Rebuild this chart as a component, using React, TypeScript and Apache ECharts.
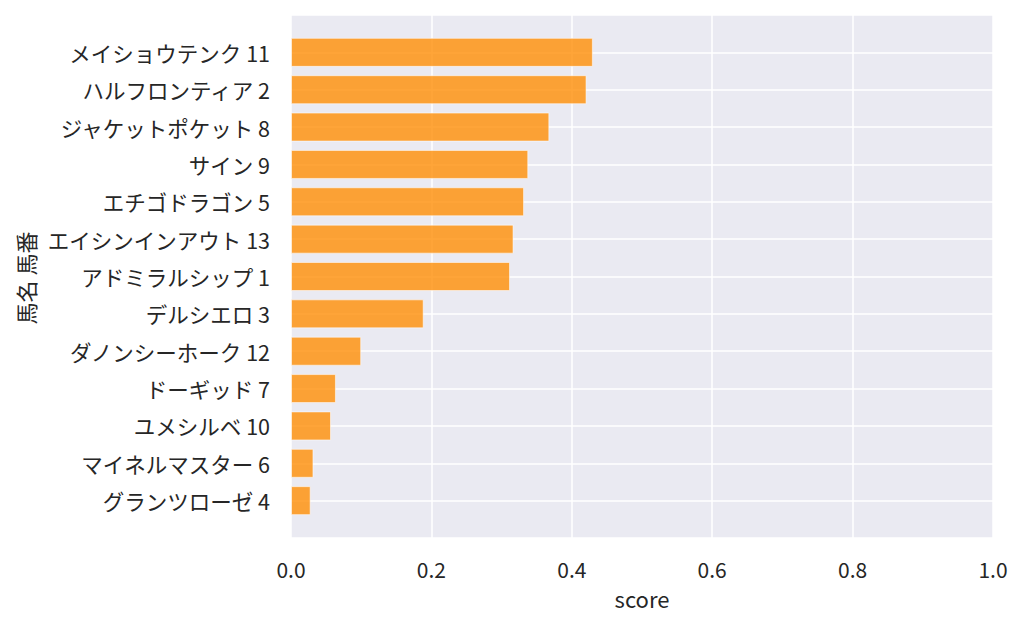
import React, { useEffect, useRef } from "react";
import * as echarts from "echarts";

const horses = [
  "メイショウテンク 11",
  "ハルフロンティア 2",
  "ジャケットポケット 8",
  "サイン 9",
  "エチゴドラゴン 5",
  "エイシンインアウト 13",
  "アドミラルシップ 1",
  "デルシエロ 3",
  "ダノンシーホーク 12",
  "ドーギッド 7",
  "ユメシルベ 10",
  "マイネルマスター 6",
  "グランツローゼ 4",
];
const scores = [0.430, 0.421, 0.368, 0.338, 0.332, 0.317, 0.312, 0.189, 0.100, 0.064, 0.057, 0.032, 0.028];
const xTicks = [0, 0.2, 0.4, 0.6, 0.8, 1.0];
const xName = "score";
const yName = "馬名 馬番";

const FONT = "'Noto Sans CJK JP', 'Noto Sans', sans-serif";
const TEXT = "#262626";
const FS = 21;

export default function App() {
  const ref = useRef<HTMLDivElement>(null);
  useEffect(() => {
    if (!ref.current) return;
    const chart = echarts.init(ref.current, undefined, { renderer: "svg" });
    const cats = ["", ...horses, ""];
    const vals: any[] = ["-", ...scores, "-"];
    chart.setOption({
      animation: false,
      textStyle: { fontFamily: FONT },
      grid: {
        left: 291,
        right: 31,
        top: 15,
        bottom: 89,
        show: true,
        backgroundColor: "#EAEAF2",
        borderWidth: 0,
      },
      xAxis: {
        type: "value",
        min: 0,
        max: 1,
        interval: 0.2,
        name: xName,
        nameLocation: "middle",
        nameGap: 49,
        nameTextStyle: { fontSize: 22, color: TEXT, fontFamily: FONT },
        axisLine: { show: false },
        axisTick: { show: false },
        axisLabel: {
          fontSize: FS,
          color: TEXT,
          margin: 20,
          fontFamily: FONT,
          formatter: (v: number) => {
            const t = xTicks.find((x) => Math.abs(x - v) < 1e-9);
            return t === undefined ? "" : t.toFixed(1);
          },
        },
        splitLine: { show: true, lineStyle: { color: "#FFFFFF", width: 1.5 } },
      },
      yAxis: {
        type: "category",
        data: cats,
        inverse: true,
        boundaryGap: false,
        axisLine: { show: false },
        axisTick: { show: false },
        axisLabel: { fontSize: 21.5, color: TEXT, margin: 21, interval: 0, fontFamily: FONT },
        splitLine: { show: true, interval: 0, lineStyle: { color: "#FFFFFF", width: 1.5 } },
      },
      graphic: [
        {
          type: "text",
          x: 25,
          y: 278,
          rotation: Math.PI / 2,
          style: {
            text: yName,
            fontSize: 22,
            fill: TEXT,
            fontFamily: FONT,
            align: "center",
            verticalAlign: "middle",
          },
        },
      ],
      series: [
        {
          type: "bar",
          data: vals,
          barWidth: 29,
          itemStyle: {
            color: "rgba(255,140,0,0.78)",
            borderColor: "rgba(255,255,255,0.55)",
            borderWidth: 1,
          },
        },
      ],
    });
    return () => chart.dispose();
  }, []);
  return (
    <div
      ref={ref}
      style={{ position: "fixed", left: 0, top: 0, width: 1024, height: 627, background: "#fff" }}
    />
  );
}
